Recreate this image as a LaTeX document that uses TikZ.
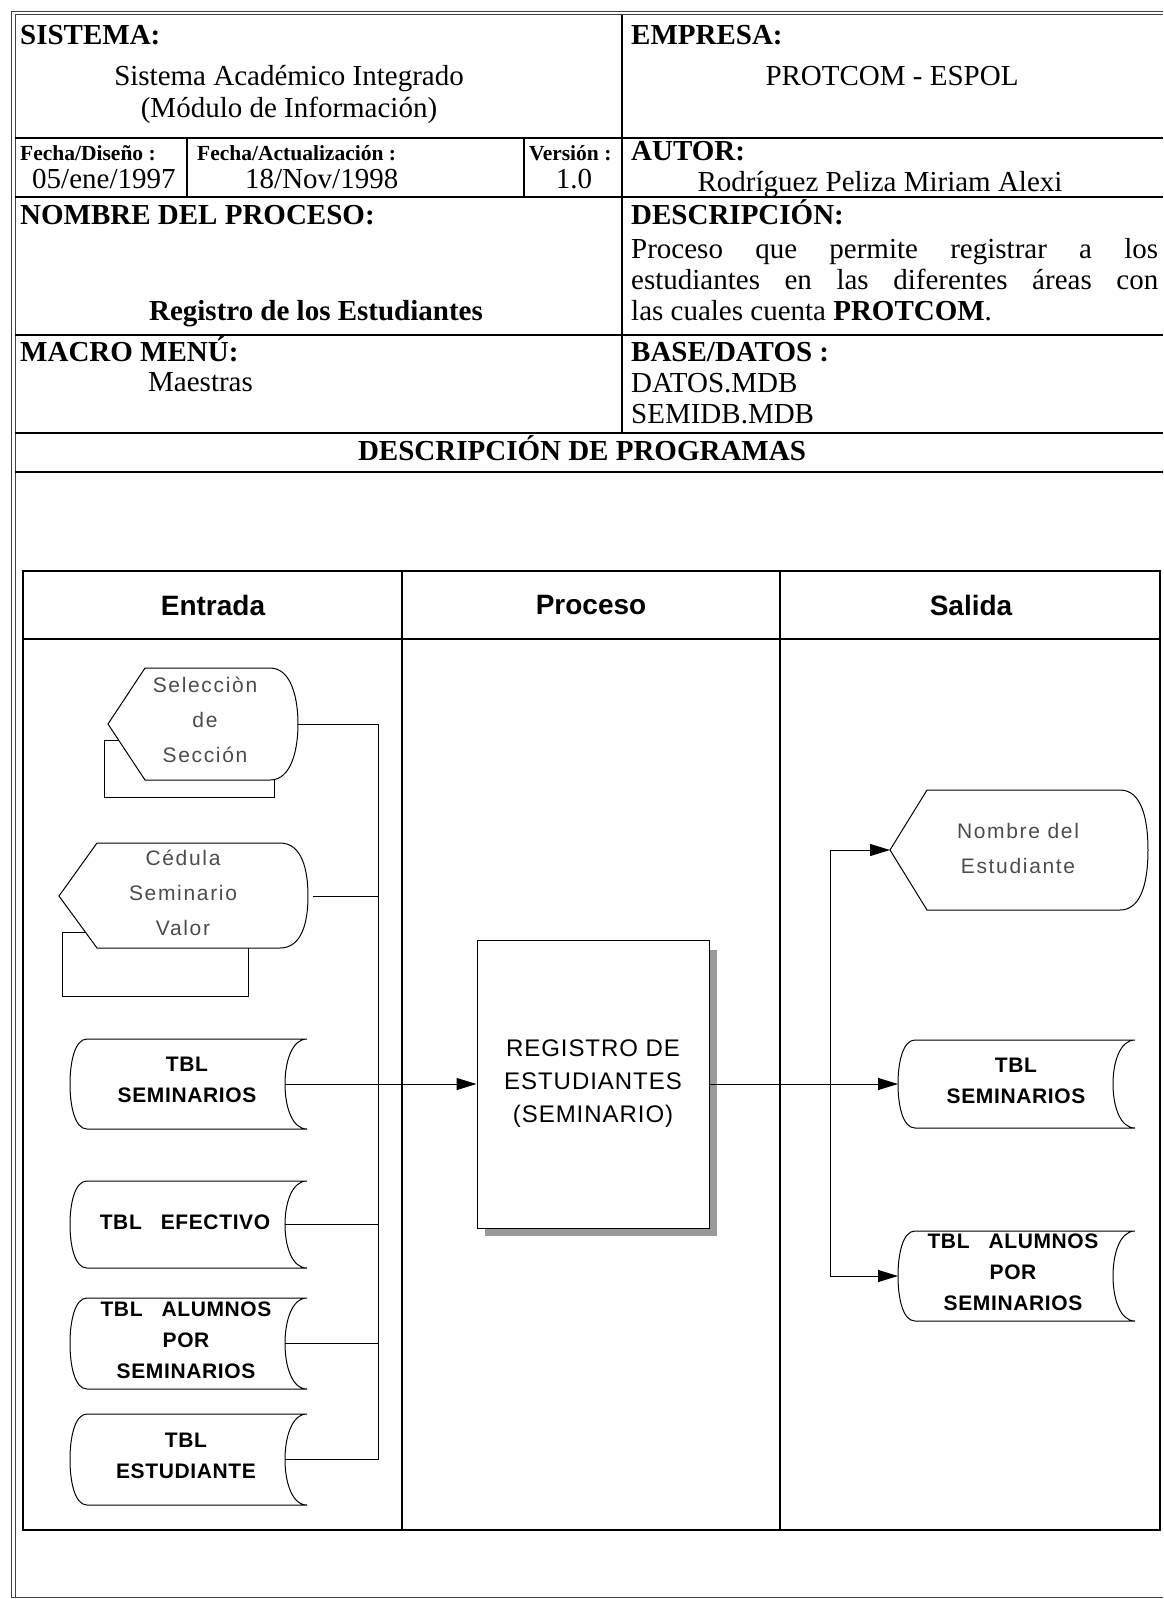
\documentclass[tikz,border=0pt]{standalone}
\usepackage{fontspec}
\setmainfont{Liberation Serif}
\newfontfamily\dgl[LetterSpace=8]{Liberation Sans}
\newfontfamily\dgp[LetterSpace=4]{Liberation Sans}
\newfontfamily\dgb[LetterSpace=3]{Liberation Sans}
\newfontfamily\dgh{Liberation Sans}
\usetikzlibrary{arrows.meta}
\newcommand\storedshape[4]{%
 \draw[sline,fill=white] (#3,#2) -- ({#1+17},#2) .. controls ({#1+5},#2) and (#1,{#2+0.25*(#4-#2)}) .. (#1,{(#2+#4)/2}) .. controls (#1,{#2+0.75*(#4-#2)}) and ({#1+5},#4) .. ({#1+17},#4) -- (#3,#4) .. controls ({#3-15},#4) and ({#3-22},{#2+0.75*(#4-#2)}) .. ({#3-22},{(#2+#4)/2}) .. controls ({#3-22},{#2+0.25*(#4-#2)}) and ({#3-15},#2) .. (#3,#2);}
\tikzset{
 tline/.style={line width=1.3pt},
 fline/.style={line width=0.9pt, black!75},
 sline/.style={line width=1pt},
 conn/.style={line width=1pt},
 arr/.style={conn, -{Triangle[length=20pt,width=12pt]}},
 hdr/.style={font={\fontsize{29}{31}\selectfont\bfseries}, inner sep=0pt, anchor=base west},
 txt/.style={font={\fontsize{29}{31}\selectfont}, inner sep=0pt, anchor=base west},
 small/.style={font={\fontsize{21.5}{24}\selectfont\bfseries}, inner sep=0pt, anchor=base west},
 lanehdr/.style={font={\dgh\fontsize{28}{30}\selectfont\bfseries}, inner sep=0pt},
 dtxt/.style={font={\dgl\fontsize{21}{35}\selectfont}, text=black!70, align=center, inner sep=0pt},
 tbltxt/.style={font={\dgb\fontsize{21}{31}\selectfont\bfseries}, align=center, inner sep=0pt},
 ptxt/.style={font={\dgp\fontsize{24}{33}\selectfont}, align=center}
}
\begin{document}
\begin{tikzpicture}[x=1pt,y=-1pt]
\useasboundingbox (0,0) rectangle (1163,1599);
\fill[white] (0,0) rectangle (1163,1599);
% outer frame
\draw[fline] (11,11) -- (1163,11);
\draw[fline] (15,14.5) -- (1163,14.5);
\draw[fline] (11,11) -- (11,1597);
\draw[fline] (15,14.5) -- (15,1597);
\draw[fline] (11,1597) -- (1163,1597);
% table lines
\draw[tline] (15,138) -- (1163,138);
\draw[tline] (15,197) -- (1163,197);
\draw[tline] (15,335) -- (1163,335);
\draw[tline] (15,433) -- (1163,433);
\draw[tline] (15,472) -- (1163,472);
\draw[tline] (622,14.5) -- (622,433);
\draw[tline] (187,138) -- (187,197);
\draw[tline] (524,138) -- (524,197);
% table texts
\node[hdr] (sis) at (20,44) {SISTEMA:};
\node[txt,anchor=base] (sisv1) at (289,85) {Sistema Académico Integrado};
\node[txt,anchor=base] (sisv2) at (289,117) {(Módulo de Información)};
\node[hdr] (emp) at (631,44) {EMPRESA:};
\node[txt,anchor=base] (empv) at (892,85) {PROTCOM - ESPOL};
\node[small] (fd) at (20,160) {Fecha/Diseño :};
\node[txt] (fdv) at (32,188) {05/ene/1997};
\node[small] (fa) at (197,160) {Fecha/Actualización :};
\node[txt] (fav) at (245,188) {18/Nov/1998};
\node[small] (ver) at (529,160) {Versión :};
\node[txt,anchor=base] (verv) at (574,188) {1.0};
\node[hdr] (aut) at (631,160) {AUTOR:};
\node[txt,anchor=base] (autv) at (880,191) {Rodríguez Peliza Miriam Alexi};
\node[hdr] (nom) at (20,224) {NOMBRE DEL PROCESO:};
\node[hdr,anchor=base] (nomv) at (316,320) {Registro de los Estudiantes};
\node[hdr] (des) at (631,224) {DESCRIPCIÓN:};
\node[txt] (desv1) at (631,258) {\makebox[527pt][s]{Proceso que permite registrar a los}};
\node[txt] (desv2) at (631,289) {\makebox[527pt][s]{estudiantes en las diferentes áreas con}};
\node[txt] (desv3) at (631,320) {las cuales cuenta \textbf{PROTCOM}.};
\node[hdr] (mac) at (20,361) {MACRO MENÚ:};
\node[txt] (macv) at (148,391) {Maestras};
\node[hdr] (bas) at (631,361) {BASE/DATOS :};
\node[txt] (basv1) at (631,392) {DATOS.MDB};
\node[txt] (basv2) at (631,423) {SEMIDB.MDB};
\node[hdr,anchor=base] (dpr) at (582,460) {DESCRIPCIÓN DE PROGRAMAS};
% lanes
\draw[tline] (23,571) rectangle (1160,1530);
\draw[tline] (23,639) -- (1160,639);
\draw[tline] (402,571) -- (402,1530);
\draw[tline] (780,571) -- (780,1530);
\node[lanehdr] (lin) at (213,605) {Entrada};
\node[lanehdr] (lpr) at (591,605) {Proceso};
\node[lanehdr] (lsa) at (971,605) {Salida};
% Seleccion display
\draw[sline,fill=white] (104,740) rectangle (274,797);
\draw[sline,fill=white] (108,724) -- (145,668) -- (270,668) .. controls (292,668) and (298,700) .. (298,724) .. controls (298,748) and (292,780) .. (270,780) -- (145,780) -- cycle;
\node[dtxt] (sel) at (205,720) {Selecciòn\\de\\Sección};
\coordinate (selout) at (298,724);
% Cedula display
\draw[sline,fill=white] (62,932) rectangle (248,996);
\draw[sline,fill=white] (59,896) -- (97,843) -- (280,843) .. controls (302,843) and (308,870) .. (308,896) .. controls (308,922) and (302,948) .. (280,948) -- (97,948) -- cycle;
\node[dtxt] (ced) at (183,893) {Cédula\\Seminario\\Valor};
\coordinate (cedout) at (313,896);
% input stored data
\storedshape{70}{1039}{307}{1129}
\node[tbltxt] (tsem) at (187,1080) {TBL\\SEMINARIOS};
\coordinate (tsemout) at (285,1084);
\storedshape{70}{1181}{307}{1268}
\node[tbltxt] (tefe) at (185,1222) {TBL\hspace{0.9em}EFECTIVO};
\coordinate (tefeout) at (285,1224.5);
\storedshape{70}{1298}{307}{1389}
\node[tbltxt] (talu) at (186,1340) {TBL\hspace{0.9em}ALUMNOS\\POR\\SEMINARIOS};
\coordinate (taluout) at (285,1343.5);
\storedshape{70}{1414}{307}{1505}
\node[tbltxt] (test) at (186,1456) {TBL\\ESTUDIANTE};
\coordinate (testout) at (285,1459.5);
% bus
\coordinate (busa) at (378,724);
\coordinate (busb) at (378,896);
\coordinate (busc) at (378,1084);
\coordinate (busd) at (378,1224.5);
\coordinate (buse) at (378,1343.5);
\coordinate (busf) at (378,1459.5);
\draw[conn] (selout) -- (busa) -- (busf);
\draw[conn] (cedout) -- (busb);
\draw[conn] (tefeout) -- (busd);
\draw[conn] (taluout) -- (buse);
\draw[conn] (testout) -- (busf);
% process
\fill[black!40] (709,950) rectangle (717,1236);
\fill[black!40] (485,1228) rectangle (717,1236);
\node[draw,sline,fill=white,minimum width=232pt,minimum height=288pt,inner sep=0pt] (proc) at (593,1084) {};
\node[ptxt] (proct) at (593,1084) {REGISTRO DE\\ESTUDIANTES\\(SEMINARIO)};
\draw[arr] (tsemout) -- (proc.west);
% outputs
\draw[sline,fill=white] (890,850) -- (927,790) -- (1120,790) .. controls (1142,790) and (1148,820) .. (1148,850) .. controls (1148,880) and (1142,910) .. (1120,910) -- (927,910) -- cycle;
\node[dtxt] (nomb) at (1018,848) {Nombre del\\Estudiante};
\coordinate (nombin) at (890,850);
\storedshape{898}{1040}{1135}{1128}
\node[tbltxt] (osem) at (1016,1081) {TBL\\SEMINARIOS};
\coordinate (osemin) at (898,1084);
\storedshape{898}{1231}{1135}{1321}
\node[tbltxt] (oalu) at (1013,1272) {TBL\hspace{0.9em}ALUMNOS\\POR\\SEMINARIOS};
\coordinate (oaluin) at (898,1276);
\coordinate (obusa) at (830,850);
\coordinate (obusb) at (830,1276);
\draw[arr] (proc.east) -- (osemin);
\draw[conn] (obusb) -- (obusa);
\draw[arr] (obusa) -- (nombin);
\draw[arr] (obusb) -- (oaluin);
\end{tikzpicture}
\end{document}
